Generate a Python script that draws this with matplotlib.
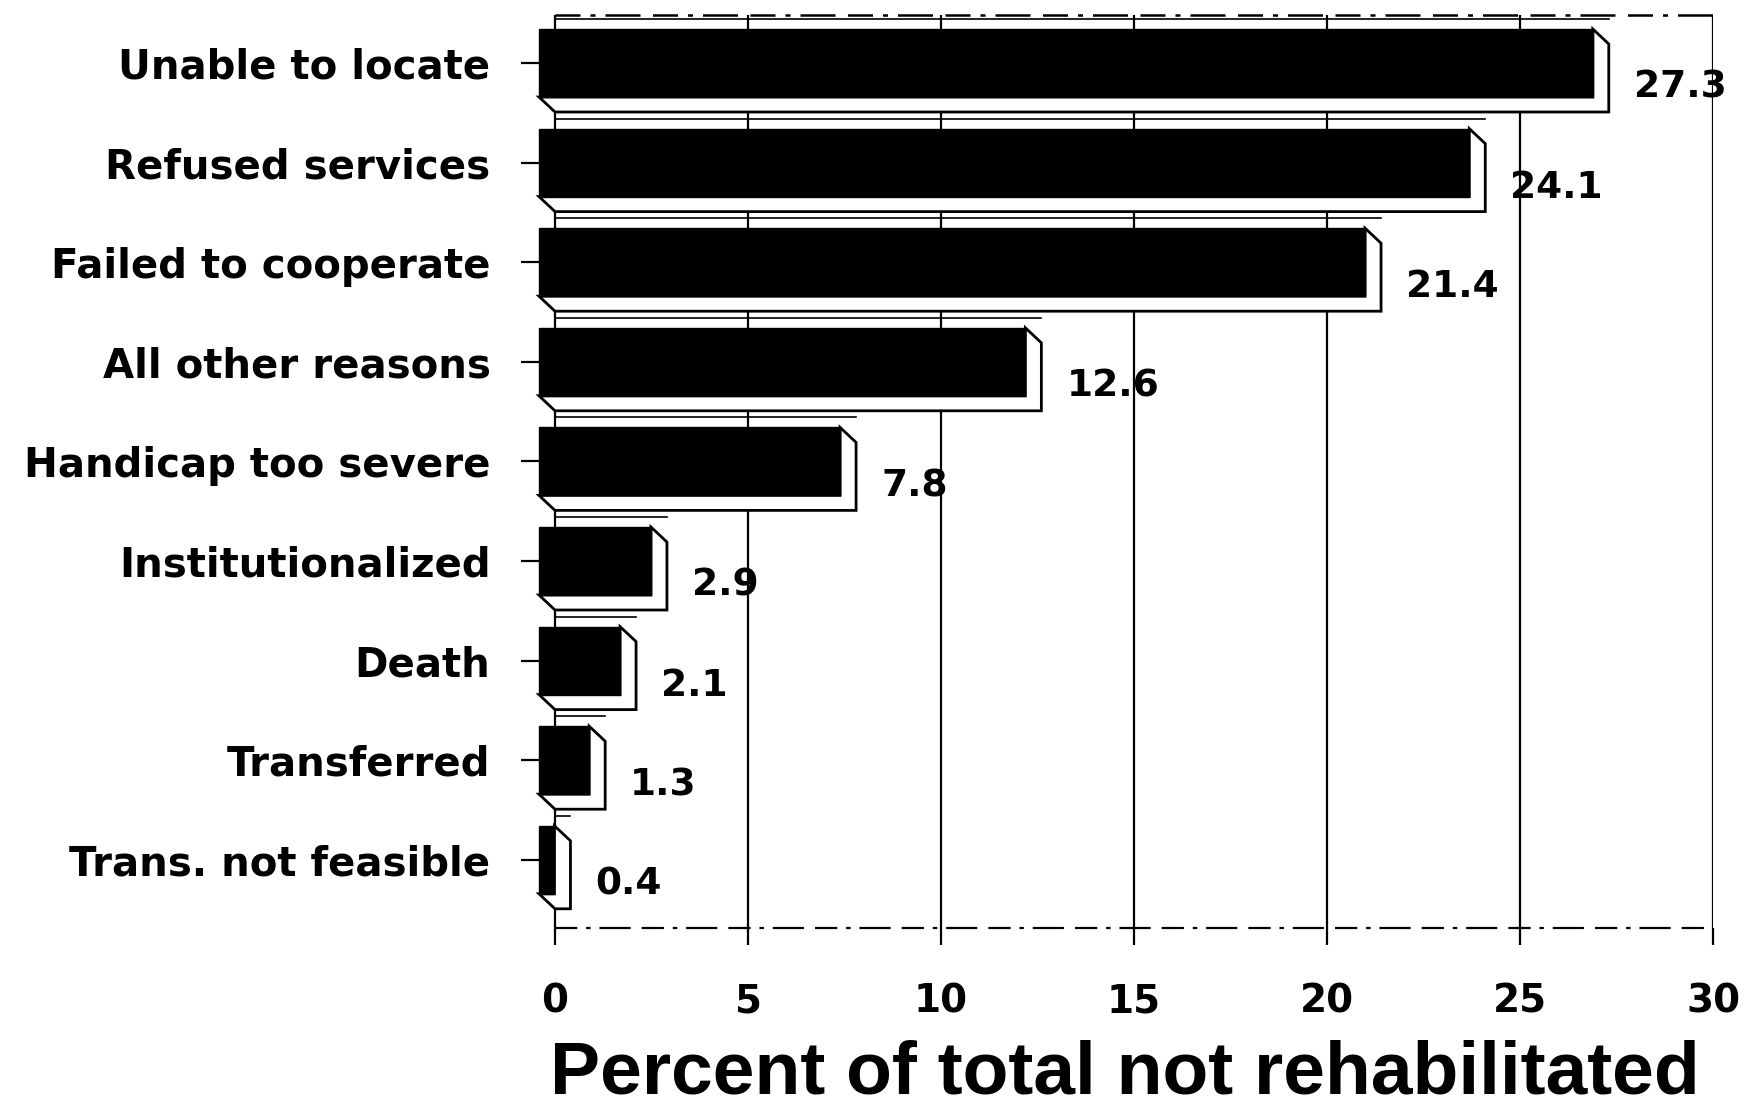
import matplotlib
matplotlib.use("Agg")
import matplotlib.pyplot as plt
from matplotlib.patches import Polygon, Rectangle

categories = ["Unable to locate", "Refused services", "Failed to cooperate",
              "All other reasons", "Handicap too severe", "Institutionalized",
              "Death", "Transferred", "Trans. not feasible"]
values = [27.3, 24.1, 21.4, 12.6, 7.8, 2.9, 2.1, 1.3, 0.4]
value_labels = ["27.3", "24.1", "21.4", "12.6", "7.8", "2.9", "2.1", "1.3", "0.4"]
xticks = [0, 5, 10, 15, 20, 25, 30]
xlabel = "Percent of total not rehabilitated"

plt.rcParams['font.family'] = ['Liberation Sans', 'DejaVu Sans']
wide = ['DejaVu Sans', 'Liberation Sans']

W, H = 1748, 1107
fig = plt.figure(figsize=(W / 100, H / 100), dpi=100)

# geometry (pixels -> data)
px_per_x = 38.6
dx = 16 / px_per_x          # depth offset to the right (data units)
pitch = 99.6                # px per bar slot
dy = 15 / pitch             # depth offset downward
hh = 34 / pitch             # half height of the front face
ax_left_px, ax_right_px = 555 - 16, 555 + 30 * px_per_x
ax_top_px, ax_bot_px = 15, 928
c0 = 63                     # first bar centre, px

ax = fig.add_axes([ax_left_px / W, 1 - ax_bot_px / H,
                   (ax_right_px - ax_left_px) / W, (ax_bot_px - ax_top_px) / H])
ax.set_xlim(-dx, 30)
ytop = (ax_top_px - c0) / pitch
ybot = (ax_bot_px - c0) / pitch
ax.set_ylim(ybot, ytop)

for s in ax.spines.values():
    s.set_visible(False)

# grid lines (vertical), including 0 and 30
for t in xticks:
    ax.plot([t, t], [ybot, ytop], color="black", lw=1.6, zorder=1)

# dashed top and bottom border
dash = (0, (10, 4, 2, 4, 14, 5))
ax.plot([0, 30], [ytop, ytop], color="black", lw=1.8, linestyle=dash,
        clip_on=False, zorder=1)
ax.plot([0, 30], [ybot, ybot], color="black", lw=1.6, linestyle=dash,
        clip_on=False, zorder=1)

for i, v in enumerate(values):
    top = i - hh
    bot = i + hh
    # back top edge line
    ax.plot([0, v], [top - 0.1, top - 0.1], color="black", lw=1.2, zorder=2)
    # white side/bottom faces
    poly = Polygon([(v - dx, top), (v, top + dy), (v, bot + dy), (0, bot + dy),
                    (-dx, bot), (v - dx, bot)], closed=True,
                   facecolor="white", edgecolor="black", lw=2.0,
                   joinstyle="miter", zorder=3, clip_on=False)
    ax.add_patch(poly)
    ax.plot([v - dx, v - dx], [top, bot], color="black", lw=1.5, zorder=3)
    # black front face
    ax.add_patch(Rectangle((-dx, top), v, 2 * hh, facecolor="black",
                           edgecolor="black", lw=1.0, zorder=4, clip_on=False))
    ax.text(v + 25 / px_per_x, i + 0.25, value_labels[i], fontsize=27,
            fontweight="bold", family=wide, ha="left", va="center", zorder=5)

ax.set_yticks(range(len(categories)))
ax.set_yticklabels(categories, fontsize=29, fontweight="bold", family=wide)
ax.tick_params(axis="y", direction="out", length=13, width=1.6, pad=22,
               left=True)
ax.set_xticks(xticks)
ax.set_xticklabels([str(t) for t in xticks], fontsize=28, fontweight="bold",
                   family=wide)
ax.tick_params(axis="x", direction="out", length=12, width=1.6, pad=27)

fig.text(1125 / W, 1 - 1093 / H, xlabel, fontsize=54, fontweight="bold",
         ha="center", va="baseline")

fig.savefig("out.png", dpi=100, facecolor="white")
